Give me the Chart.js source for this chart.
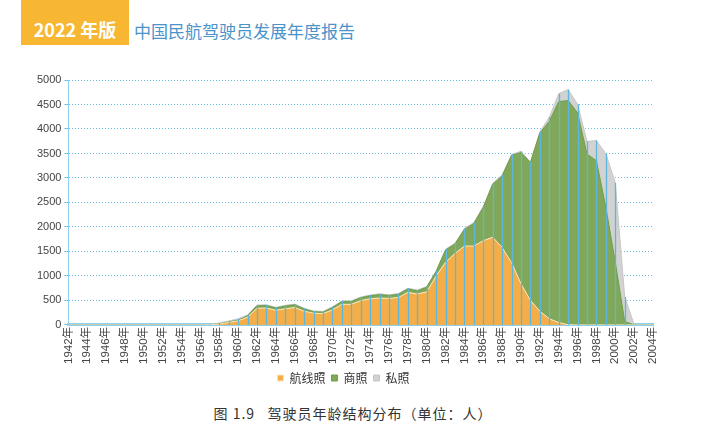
<!DOCTYPE html>
<html>
<head>
<meta charset="utf-8">
<script src="https://cdn.jsdelivr.net/npm/chart.js@4.4.1/dist/chart.umd.min.js"></script>
<style>
  body { margin: 0; width: 706px; height: 436px; background: #ffffff; position: relative; overflow: hidden;
         font-family: "Liberation Sans", "Noto Sans CJK SC", sans-serif; }
  #badge { position: absolute; left: 21px; top: 0; width: 108px; height: 45px; background: #F8B733;
           color: #fff; font: bold 18px "Noto Sans CJK SC", sans-serif; line-height: 58px; text-align: center; }
  #title { position: absolute; left: 134px; top: 18px; color: #4b93c9; font: 17px "Noto Sans CJK SC", sans-serif; }
  #wrap { position: absolute; left: 0; top: 60px; width: 706px; height: 334px; }
  #caption { position: absolute; left: 0; width: 706px; top: 403px; text-align: center; color: #333;
             font: 14px "Noto Sans CJK SC", serif; letter-spacing: 1px; }
</style>
</head>
<body>
<div id="badge">2022 年版</div>
<div id="title">中国民航驾驶员发展年度报告</div>
<div id="wrap"><canvas id="chart"></canvas></div>
<div id="caption">图 1.9&nbsp;&nbsp;&nbsp;驾驶员年龄结构分布（单位：人）</div>
<script>
// Birth years 1942 - 2004
const years = [];
for (let y = 1942; y <= 2004; y++) years.push(y + '年');

// 航线照 (airline transport)
const airline = [
  0, 0, 0, 0, 0, 0, 0, 0, 0, 0, 0, 0, 0, 0, 0,          // 1942-1956
  3, 20, 50, 85, 160, 340, 345, 300, 330, 355,          // 1957-1966
  280, 240, 230, 310, 420, 420, 495, 535, 548, 541,     // 1967-1976
  560, 665, 630, 675, 1000, 1280, 1460, 1610, 1610, 1720, // 1977-1986
  1790, 1580, 1270, 840, 500, 280, 125, 50, 5, 0,       // 1987-1996
  0, 0, 0, 0, 0, 0, 0, 0                                // 1997-2004
];

// 商照 (commercial)
const commercial = [
  0, 0, 0, 0, 0, 0, 0, 0, 0, 0, 0, 0, 0, 0, 0,
  1, 5, 10, 15, 25, 50, 50, 45, 55, 55,
  45, 30, 30, 45, 55, 55, 60, 60, 72, 59,
  65, 70, 65, 95, 90, 250, 190, 340, 460, 680,
  1080, 1460, 2190, 2680, 2810, 3640, 4030, 4510, 4575, 4330,
  3490, 3350, 2400, 1280, 70, 0, 0, 0
];

// 私照 (private)
const privatePilot = [
  0, 0, 0, 0, 0, 0, 0, 0, 0, 0, 0, 0, 0, 0, 0,
  4, 15, 20, 25, 20, 15, 15, 15, 15, 15,
  15, 15, 15, 15, 15, 15, 15, 15, 15, 15,
  15, 15, 15, 15, 15, 15, 20, 20, 20, 20,
  20, 25, 20, 25, 20, 20, 85, 160, 225, 175,
  255, 415, 1095, 1620, 505, 5, 0, 0
];

const yTicks = [0, 500, 1000, 1500, 2000, 2500, 3000, 3500, 4000, 4500, 5000];

const totals = years.map((_, i) => airline[i] + commercial[i] + privatePilot[i]);

// Excel-style drop lines from the axis to the top of the stack
const dropLines = {
  id: 'dropLines',
  afterDatasetsDraw(chart) {
    const ctx = chart.ctx;
    const xs = chart.scales.x, ys = chart.scales.y;
    ctx.save();
    ctx.strokeStyle = '#5cb6dd';
    ctx.lineWidth = 1.3;
    totals.forEach((t, i) => {
      if (t <= 0) return;
      const x = Math.round(xs.getPixelForValue(i)) + 0.5;
      ctx.beginPath();
      ctx.moveTo(x, ys.getPixelForValue(0));
      ctx.lineTo(x, ys.getPixelForValue(t));
      ctx.stroke();
    });
    ctx.restore();
  }
};

new Chart(document.getElementById('chart'), {
  type: 'line',
  data: {
    labels: years,
    datasets: [
      {
        label: '航线照',
        data: airline,
        backgroundColor: '#F5AE47',
        borderColor: '#FCE6BE',
        borderWidth: 1,
        fill: 'origin',
        pointRadius: 0,
        tension: 0
      },
      {
        label: '商照',
        data: commercial,
        backgroundColor: '#80A858',
        borderColor: '#6F9C47',
        borderWidth: 1,
        fill: '-1',
        pointRadius: 0,
        tension: 0
      },
      {
        label: '私照',
        data: privatePilot,
        backgroundColor: '#D2D2D2',
        borderColor: '#C6C6C6',
        borderWidth: 1,
        fill: '-1',
        pointRadius: 0,
        tension: 0
      }
    ]
  },
  options: {
    responsive: true,
    maintainAspectRatio: false,
    animation: false,
    layout: { padding: { top: 20, right: 53, left: 34, bottom: 0 } },
    scales: {
      x: {
        offset: false,
        grid: { display: false, drawTicks: false },
        border: { display: true, color: '#8ccfee', width: 3 },
        ticks: {
          autoSkip: false,
          minRotation: 90,
          maxRotation: 90,
          padding: 2,
          color: '#444',
          font: { size: 11.5, family: '"Liberation Sans", "Noto Sans CJK SC"' },
          callback: function (val, i) { return i % 2 === 0 ? years[i] : ''; }
        }
      },
      y: {
        stacked: true,
        min: 0,
        max: 5000,
        afterBuildTicks: axis => { axis.ticks = yTicks.map(v => ({ value: v })); },
        grid: { color: '#6cbfe8', lineWidth: 1, tickLength: 4, tickColor: '#6cbfe8' },
        border: { display: true, color: '#8fd0ee', dash: [1, 2] },
        ticks: {
          padding: 3,
          color: '#444',
          font: { size: 11, family: '"Liberation Sans", sans-serif' },
          callback: v => String(v)
        }
      }
    },
    plugins: {
      legend: {
        position: 'bottom',
        labels: {
          boxWidth: 6,
          boxHeight: 6,
          padding: 6,
          color: '#333',
          font: { size: 12, family: '"Noto Sans CJK SC", sans-serif' }
        }
      },
      tooltip: { enabled: false }
    }
  },
  plugins: [dropLines]
});
</script>
</body>
</html>
